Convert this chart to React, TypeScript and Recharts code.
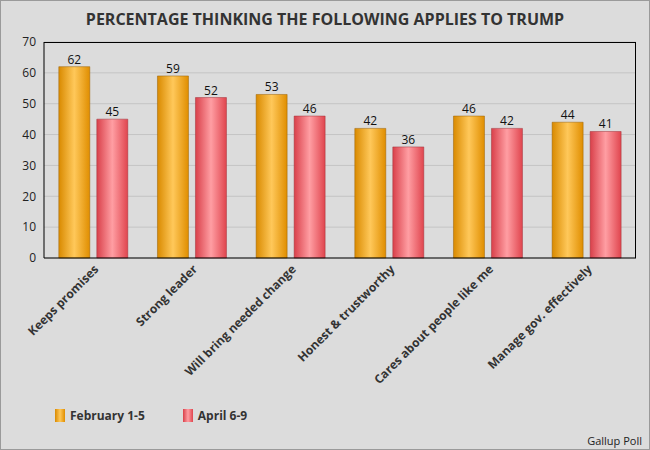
import React from "react";
import { BarChart, Bar, XAxis, YAxis, CartesianGrid, LabelList } from "recharts";

const categories = ["Keeps promises", "Strong leader", "Will bring needed change", "Honest & trustworthy", "Cares about people like me", "Manage gov. effectively"];
const feb = [62, 59, 53, 42, 46, 44];
const apr = [45, 52, 46, 36, 42, 41];
const yTicks = [0, 10, 20, 30, 40, 50, 60, 70];

const data = categories.map((c, i) => ({ name: c, feb: feb[i], apr: apr[i] }));

const Tick = (props: any) => {
  const { x, y, payload } = props;
  return (
    <text x={x + 6} y={y + 4} textAnchor="end" transform={`rotate(-45 ${x + 6} ${y + 4})`} fontSize={12} fontWeight="bold" fill="#333" fontFamily="'Open Sans', sans-serif">
      {payload.value}
    </text>
  );
};

export default function App() {
  const font = "'Open Sans', sans-serif";
  return (
    <div style={{ position: "absolute", left: 0, top: 0, width: 650, height: 450, background: "#dcdcdc", boxSizing: "border-box", border: "1px solid #9a9a9a", fontFamily: font }}>
      <div style={{ position: "absolute", top: 7, width: "100%", textAlign: "center", fontWeight: "bold", fontSize: 16, color: "#333" }}>
        PERCENTAGE THINKING THE FOLLOWING APPLIES TO TRUMP
      </div>
      <BarChart width={648} height={448} data={data} margin={{ top: 41, right: 13, left: 0, bottom: 0 }} barCategoryGap="15%" barGap={7}>
        <defs>
          <linearGradient id="gO" x1="0" y1="0" x2="1" y2="0">
            <stop offset="0" stopColor="#d98a00" />
            <stop offset="0.5" stopColor="#ffc85a" />
            <stop offset="1" stopColor="#e08e00" />
          </linearGradient>
          <linearGradient id="gR" x1="0" y1="0" x2="1" y2="0">
            <stop offset="0" stopColor="#d9404a" />
            <stop offset="0.5" stopColor="#ff9ea3" />
            <stop offset="1" stopColor="#e0454e" />
          </linearGradient>
        </defs>
        <CartesianGrid vertical={false} stroke="#c4c4c4" />
        <XAxis dataKey="name" interval={0} tick={<Tick />} tickLine={false} axisLine={{ stroke: "#000" }} height={191} />
        <YAxis domain={[0, 70]} ticks={yTicks} width={43} tickLine={false} axisLine={{ stroke: "#000" }} tick={{ fontSize: 12, fill: "#222", fontFamily: font }} />
        <Bar dataKey="feb" fill="url(#gO)" stroke="#9a6000" strokeWidth={0.5} isAnimationActive={false}>
          <LabelList dataKey="feb" position="top" fontSize={12} fill="#111" offset={3} />
        </Bar>
        <Bar dataKey="apr" fill="url(#gR)" stroke="#a03038" strokeWidth={0.5} isAnimationActive={false}>
          <LabelList dataKey="apr" position="top" fontSize={12} fill="#111" offset={3} />
        </Bar>
        <line x1={43} y1={41.5} x2={635} y2={41.5} stroke="#000" />
        <line x1={634.5} y1={41} x2={634.5} y2={257} stroke="#000" />
      </BarChart>
      <div style={{ position: "absolute", left: 54, top: 406, display: "flex", alignItems: "center", fontSize: 12, fontWeight: "bold", color: "#333" }}>
        <span style={{ width: 10, height: 13, background: "linear-gradient(to right,#d98a00,#ffc85a,#e08e00)", marginRight: 5 }} />
        <span style={{ marginRight: 38 }}>February 1-5</span>
        <span style={{ width: 10, height: 13, background: "linear-gradient(to right,#d9404a,#ff9ea3,#e0454e)", marginRight: 5 }} />
        <span>April 6-9</span>
      </div>
      <div style={{ position: "absolute", right: 7, top: 432, fontSize: 11, color: "#222" }}>Gallup Poll</div>
    </div>
  );
}
